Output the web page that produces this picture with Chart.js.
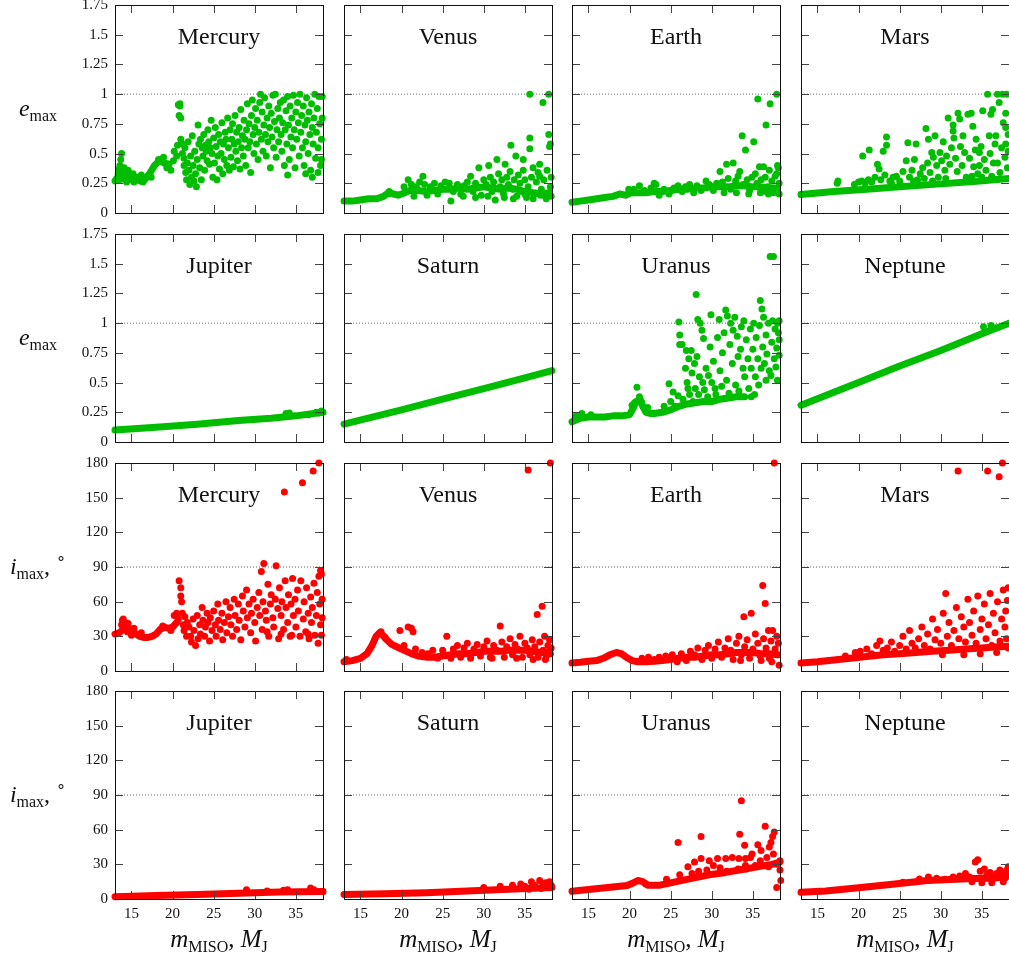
<!DOCTYPE html>
<html>
<head>
<meta charset="utf-8">
<script src="https://cdn.jsdelivr.net/npm/chart.js@4"></script>
<style>
  html, body { margin: 0; padding: 0; background: #fff; overflow: hidden; }
  #wrap { position: relative; width: 1009px; height: 958px; overflow: hidden; font-family: "Liberation Serif", serif; color: #111; }
  #wrap canvas { position: absolute; }
  .ylab { position: absolute; left: 0; width: 76px; text-align: center; font-size: 24px; line-height: 28px; white-space: nowrap; }
  .xlab { position: absolute; width: 208px; text-align: center; font-size: 25px; line-height: 30px; white-space: nowrap; }
  .sb { font-size: 16px; font-style: normal; position: relative; top: 5px; }
  .sp { font-size: 16px; position: relative; top: -10px; }
</style>
</head>
<body>
<div id="wrap"></div>
<script>
// ---- axes ----
const xMin = 13, xMax = 38.3;
const xTicks = [15, 20, 25, 30, 35];
const eTicks = [0, 0.25, 0.5, 0.75, 1, 1.25, 1.5, 1.75];
const iTicks = [0, 30, 60, 90, 120, 150, 180];
const eRef = 1, iRef = 90;

// ---- e_max, inner planets ----
const mercuryEBand = [13,0.27, 13.6,0.28, 14.2,0.30, 14.8,0.31, 15.4,0.29, 16,0.27, 16.6,0.28, 17.2,0.33, 17.8,0.40, 18.4,0.44, 19,0.42, 19.6,0.41];
const mercuryEDots = [13.2,0.29, 13.4,0.33, 13.5,0.37, 13.6,0.40, 13.7,0.45, 13.8,0.50, 13.9,0.35, 14,0.30, 14.1,0.38, 14.3,0.33, 14.4,0.26,
  14.6,0.36, 14.9,0.28, 15.2,0.33, 15.3,0.26, 15.7,0.30, 16.2,0.32, 16.4,0.26, 17.4,0.30, 18.3,0.45, 18.9,0.47, 19.3,0.38, 19.8,0.36,
  20.1,0.44, 20.2,0.52, 20.5,0.48, 20.6,0.57, 20.7,0.91, 20.9,0.92, 20.9,0.90, 20.8,0.82, 21,0.80, 21,0.62, 21.2,0.58, 21.2,0.50, 21.4,0.46, 21.4,0.40,
  21.5,0.55, 21.6,0.34, 21.7,0.28, 21.8,0.42, 21.9,0.60, 22,0.36, 22.1,0.24, 22.2,0.48, 22.3,0.30, 22.4,0.65, 22.5,0.40, 22.6,0.27, 22.7,0.52, 22.8,0.33, 22.9,0.22, 23,0.45,
  23.1,0.74, 23.2,0.58, 23.3,0.38, 23.4,0.62, 23.5,0.28, 23.6,0.55, 23.7,0.48, 23.8,0.66, 23.9,0.36, 24,0.57, 24.1,0.52, 24.2,0.44, 24.3,0.70, 24.4,0.60, 24.5,0.41, 24.6,0.55, 24.7,0.78, 24.8,0.50, 24.9,0.30, 25,0.63,
  25.1,0.42, 25.2,0.72, 25.3,0.56, 25.4,0.28, 25.5,0.48, 25.6,0.66, 25.7,0.37, 25.8,0.60, 25.9,0.50, 26,0.76, 26.1,0.33, 26.2,0.58, 26.3,0.45, 26.4,0.68, 26.5,0.62, 26.6,0.40, 26.7,0.80, 26.8,0.55, 26.9,0.36, 27,0.70,
  27.1,0.47, 27.2,0.62, 27.3,0.75, 27.4,0.39, 27.5,0.58, 27.6,0.82, 27.7,0.52, 27.8,0.68, 27.9,0.44, 28,0.60, 28.1,0.72, 28.2,0.37, 28.3,0.87, 28.4,0.55, 28.5,0.65, 28.6,0.48, 28.7,0.78, 28.8,0.62, 28.9,0.40, 29,0.70,
  29.1,0.92, 29.2,0.55, 29.3,0.75, 29.4,0.60, 29.5,0.34, 29.6,0.82, 29.7,0.95, 29.8,0.66, 29.9,0.50, 30,0.72, 30.1,0.88, 30.2,0.58, 30.3,0.78, 30.4,0.45, 30.5,0.68, 30.6,0.93, 30.7,1.0, 30.8,0.62, 30.9,0.85, 31,0.52,
  31.1,0.74, 31.2,0.97, 31.3,0.66, 31.4,0.48, 31.5,0.80, 31.6,0.60, 31.7,0.90, 31.8,0.72, 31.9,0.38, 32,0.84, 32.1,0.64, 32.2,0.99, 32.3,0.55, 32.4,0.77, 32.5,1.0, 32.6,0.47, 32.7,0.70, 32.8,0.88, 32.9,0.60, 33,0.80,
  33.1,0.93, 33.2,0.66, 33.3,0.52, 33.4,0.76, 33.5,0.95, 33.6,0.40, 33.7,0.70, 33.8,0.86, 33.9,0.58, 34,0.98, 34.1,0.74, 34.2,0.45, 34.3,0.90, 34.4,0.64, 34.5,0.80, 34.6,0.55, 34.7,0.99, 34.8,0.70, 34.9,0.38, 35,0.85,
  35.1,0.62, 35.2,0.93, 35.3,0.76, 35.4,0.48, 35.5,1.0, 35.6,0.68, 35.7,0.82, 35.8,0.55, 35.9,0.90, 36,0.40, 36.1,0.74, 36.2,0.60, 36.3,0.97, 36.4,0.78, 36.5,0.50, 36.6,0.85, 36.7,0.66, 36.8,0.36, 36.9,0.92, 37,0.72,
  37.1,0.58, 37.2,0.80, 37.3,1.0, 37.4,0.46, 37.5,0.68, 37.6,0.88, 37.7,0.55, 37.8,0.98, 37.9,0.75, 38,0.40, 38.1,0.45, 38.1,0.62, 38.2,0.80, 38.2,0.98, 37.7,0.34, 37,0.30, 36.2,0.33, 34,0.32];

const venusEBand = [13,0.10, 14,0.10, 15,0.11, 16,0.12, 17,0.12, 17.8,0.14, 18.4,0.17, 19,0.16, 19.6,0.15, 20.4,0.17, 21,0.19, 22,0.19, 23,0.18, 24,0.19,
  25,0.20, 26,0.20, 27,0.21, 28,0.20, 29,0.21, 30,0.22, 31,0.21, 32,0.20, 33,0.21, 34,0.20, 35,0.18, 36,0.17, 37,0.16, 38,0.17];
const venusEDots = [18.5,0.18, 20.3,0.22, 20.8,0.28, 21.2,0.24, 21.5,0.14, 21.8,0.22, 22.2,0.26, 22.6,0.31, 22.8,0.24, 23.1,0.15, 23.5,0.22, 24,0.25, 24.4,0.16,
  24.8,0.23, 25.3,0.26, 25.8,0.25, 26,0.10, 26.3,0.18, 26.8,0.24, 27.2,0.16, 27.6,0.23, 28,0.26, 28.4,0.31, 28.7,0.18, 29,0.25, 29.4,0.38, 29.7,0.15,
  30,0.28, 30.3,0.24, 30.6,0.40, 30.8,0.30, 31,0.18, 31.2,0.26, 31.4,0.11, 31.6,0.45, 31.8,0.33, 32,0.22, 32.2,0.28, 32.4,0.16, 32.6,0.41, 32.8,0.30,
  33,0.24, 33.2,0.35, 33.3,0.57, 33.5,0.20, 33.7,0.28, 33.9,0.48, 34,0.14, 34.2,0.32, 34.4,0.25, 34.6,0.18, 34.8,0.45, 34.8,0.36, 35,0.28, 35.2,0.13,
  35.4,0.22, 35.6,0.63, 35.6,0.54, 35.6,1.0, 35.8,0.30, 36,0.38, 36.2,0.16, 36.4,0.26, 36.6,0.34, 36.8,0.41, 36.8,0.31, 37,0.20, 37.2,0.93, 37.3,0.28,
  37.5,0.14, 37.7,0.36, 37.9,0.66, 37.9,1.0, 38,0.56, 38.1,0.58, 38.1,0.22, 38.2,0.30, 38.2,0.14, 37.6,0.12, 36.9,0.15, 36,0.12, 35,0.16, 33.6,0.12,
  32.5,0.13, 30.5,0.14, 29,0.13, 27.5,0.14];

const earthEBand = [13,0.09, 14,0.10, 15,0.11, 16,0.12, 17,0.13, 18,0.14, 18.8,0.16, 19.5,0.15, 20.2,0.17, 21,0.17, 22,0.17, 23,0.18, 24,0.18, 25,0.19,
  26,0.20, 27,0.20, 28,0.21, 29,0.21, 30,0.22, 31,0.22, 32,0.22, 33,0.23, 34,0.23, 35,0.22, 36,0.22, 37,0.21, 38,0.21];
const earthEDots = [19.9,0.20, 20.5,0.20, 21.2,0.23, 21.8,0.19, 22.6,0.21, 23,0.25, 23.2,0.24, 23.6,0.15, 24.2,0.20, 24.8,0.16, 25.4,0.21, 25.9,0.23,
  26.4,0.18, 26.8,0.22, 27.3,0.24, 27.8,0.17, 28.2,0.23, 28.7,0.19, 29.3,0.27, 29.7,0.24, 30.2,0.19, 30.6,0.25, 31,0.35, 31.3,0.26, 31.8,0.41, 32,0.29,
  32.3,0.20, 32.6,0.42, 32.9,0.27, 33.2,0.31, 33.4,0.35, 33.7,0.65, 33.8,0.24, 34.1,0.53, 34.3,0.28, 34.6,0.19, 34.9,0.30, 35.1,0.60, 35.3,0.33,
  35.5,0.25, 35.6,0.96, 35.8,0.39, 36,0.28, 36.2,0.18, 36.3,0.39, 36.5,0.30, 36.6,0.74, 36.8,0.22, 37,0.36, 37.1,0.92, 37.3,0.27, 37.5,0.17, 37.7,0.31,
  37.9,1.0, 37.9,0.33, 38,0.40, 38.1,0.38, 38.2,0.25, 38.2,0.16, 36.9,0.16, 35.9,0.17, 34.5,0.16, 33,0.17, 31.5,0.17];

const marsEBand = [13,0.155, 17,0.18, 21,0.20, 25,0.22, 30,0.245, 34,0.265, 38.3,0.29];
const marsEDots = [17.4,0.25, 17.5,0.27, 19.5,0.24, 20,0.26, 20.4,0.27, 20.5,0.48, 20.8,0.25, 21.2,0.28, 21.3,0.53, 21.6,0.26, 22,0.30, 22.3,0.41,
  22.5,0.37, 22.7,0.28, 23,0.52, 23.2,0.32, 23.4,0.57, 23.4,0.64, 23.8,0.27, 24.2,0.30, 24.6,0.31, 25,0.27, 25.4,0.35, 25.8,0.44, 26,0.59, 26.2,0.30,
  26.5,0.36, 26.8,0.45, 27,0.58, 27.2,0.28, 27.5,0.33, 27.8,0.38, 28,0.29, 28.2,0.71, 28.4,0.42, 28.5,0.62, 28.7,0.34, 28.9,0.51, 29.1,0.47, 29.3,0.65,
  29.5,0.40, 29.7,0.30, 29.9,0.51, 30.1,0.44, 30.3,0.60, 30.5,0.36, 30.7,0.48, 30.9,0.80, 31.1,0.41, 31.3,0.55, 31.5,0.74, 31.5,0.69, 31.6,0.63, 31.8,0.46,
  32,0.35, 32.1,0.84, 32.3,0.79, 32.4,0.56, 32.6,0.40, 32.7,0.65, 32.9,0.51, 33.1,0.30, 33.3,0.83, 33.5,0.46, 33.7,0.84, 33.9,0.73, 34,0.39, 34.2,0.53,
  34.3,0.62, 34.5,0.33, 34.7,0.51, 34.7,0.40, 34.9,0.56, 35.1,0.86, 35.3,0.45, 35.5,0.36, 35.7,1.0, 35.9,0.65, 36,0.50, 36.1,0.83, 36.3,0.87, 36.4,0.42,
  36.6,0.58, 36.7,0.65, 36.9,1.0, 36.9,0.42, 37.1,0.93, 37.2,0.34, 37.4,0.55, 37.5,1.0, 37.6,0.76, 37.8,0.47, 37.9,0.84, 37.9,0.72, 37.9,0.58, 38,1.0,
  38.1,0.38, 38.2,0.66, 38.2,0.52, 36.2,0.31, 35,0.30, 33.8,0.31, 30.6,0.29, 29,0.27, 26.7,0.27, 24,0.25];

// ---- e_max, outer planets ----
const jupiterEBand = [13,0.10, 18,0.125, 23,0.15, 28,0.18, 32,0.20, 35,0.22, 38.3,0.25];
const jupiterEDots = [33.8,0.24, 34.2,0.245, 36.5,0.23, 37.5,0.25, 38.1,0.26, 37.8,0.245];

const saturnEBand = [13,0.15, 20,0.27, 25,0.36, 30,0.45, 35,0.54, 38.3,0.60];
const saturnEDots = [];

const uranusEBand = [13,0.17, 14,0.20, 15,0.21, 16,0.21, 17,0.21, 18,0.22, 19,0.22, 20,0.23, 20.4,0.28, 20.8,0.34, 21.3,0.36, 21.6,0.30, 22,0.25,
  22.5,0.24, 23,0.24, 24,0.25, 25,0.27, 26,0.30, 27,0.32, 28,0.33, 29,0.34, 30,0.34, 31,0.36, 32,0.37, 33,0.38, 34,0.38];
const uranusEDots = [13.5,0.22, 14.2,0.24, 15.3,0.23, 20.3,0.31, 20.6,0.33, 20.9,0.46, 21.2,0.38, 21.5,0.33, 22.2,0.29, 24.2,0.30, 24.8,0.49, 25,0.34,
  25.3,0.42, 25.5,0.30, 25.9,0.39, 26,1.01, 26.1,0.90, 26.1,0.82, 26.4,0.82, 26.5,0.36, 26.8,0.62, 26.9,0.77, 27,0.50, 27.1,0.45, 27.2,0.70, 27.3,0.40,
  27.5,0.77, 27.6,0.58, 27.7,0.34, 27.9,0.66, 28,0.45, 28.1,1.24, 28.2,0.72, 28.3,1.03, 28.4,0.40, 28.5,0.55, 28.6,1.0, 28.8,0.94, 28.9,0.50, 29,0.87,
  29.1,0.44, 29.3,0.62, 29.5,0.38, 29.6,0.56, 29.8,0.80, 29.9,1.07, 30,0.50, 30.2,0.68, 30.4,0.45, 30.5,0.40, 30.7,0.88, 30.9,1.03, 31,0.60, 31.2,0.47,
  31.3,0.75, 31.5,0.92, 31.7,1.11, 31.8,0.52, 31.9,1.06, 32.1,0.41, 32.2,0.82, 32.3,1.0, 32.5,0.66, 32.6,0.94, 32.8,1.05, 32.9,0.48, 33.1,0.89, 33.2,0.72,
  33.3,0.43, 33.5,0.78, 33.6,0.97, 33.8,0.62, 33.9,1.02, 34,0.55, 34.2,0.86, 34.4,0.70, 34.5,0.45, 34.7,0.95, 34.8,0.62, 35,0.78, 35.1,1.0, 35.3,0.55,
  35.4,0.88, 35.6,0.70, 35.7,0.48, 35.8,0.98, 35.9,1.19, 36,0.62, 36.1,1.12, 36.2,0.80, 36.3,1.05, 36.4,0.66, 36.6,0.90, 36.7,0.74, 36.9,1.0, 37,0.60,
  37.1,1.56, 37.3,0.84, 37.4,1.02, 37.5,1.56, 37.6,0.70, 37.7,0.95, 37.8,0.63, 37.9,0.79, 38,1.0, 38,0.52, 38.1,0.92, 38.2,0.73, 38.2,0.86, 38.2,1.02,
  37.2,0.56, 36.6,0.52, 35.2,0.40, 34.8,0.38];

const neptuneEBand = [13,0.31, 20,0.50, 25,0.64, 30,0.77, 35,0.91, 38.3,1.0];
const neptuneEDots = [35.2,0.97, 36.1,0.98, 36.6,0.96];

// ---- i_max, inner planets ----
const mercuryIBand = [13,32, 13.5,33, 14,36, 14.4,38, 14.8,36, 15.2,34, 15.6,32, 16,30, 16.5,29, 17,29, 17.5,30, 18,32, 18.5,36, 19,38, 19.5,37, 20,38, 20.5,42];
const mercuryIDots = [13.8,40, 13.9,44, 14,45, 14.2,42, 14.3,39, 14.6,41, 14.5,34, 15,31, 15.3,37, 16.2,33, 18.8,39, 19.8,35, 20.2,48, 20.5,50, 20.7,45,
  20.8,78, 21,72, 21,65, 21.1,60, 21.2,50, 21.3,40, 21.4,35, 21.5,47, 21.7,30, 21.8,42, 22,38, 22.2,30, 22.3,25, 22.5,45, 22.6,35, 22.8,22, 23,48, 23.1,28,
  23.3,40, 23.4,32, 23.6,55, 23.7,44, 23.9,30, 24,38, 24.2,50, 24.3,42, 24.5,26, 24.6,46, 24.8,35, 25,52, 25.2,40, 25.3,30, 25.5,58, 25.6,44, 25.8,36,
  26,50, 26.1,27, 26.3,42, 26.5,60, 26.6,33, 26.8,47, 27,55, 27.1,40, 27.3,30, 27.5,62, 27.6,48, 27.8,36, 28,58, 28.1,44, 28.3,27, 28.5,65, 28.6,52,
  28.8,38, 29,70, 29.1,46, 29.3,58, 29.5,33, 29.6,50, 29.8,62, 30,42, 30.1,26, 30.3,55, 30.5,68, 30.6,48, 30.8,86, 30.9,36, 31,60, 31.1,93, 31.3,52,
  31.4,44, 31.6,75, 31.7,30, 31.9,58, 32,66, 32.2,46, 32.3,38, 32.5,62, 32.6,91, 32.8,54, 32.9,28, 33,72, 33.2,48, 33.3,60, 33.5,36, 33.6,155, 33.7,78,
  33.8,55, 34,42, 34.1,66, 34.3,30, 34.4,58, 34.6,80, 34.7,48, 34.9,62, 35,38, 35.2,70, 35.3,52, 35.5,30, 35.6,78, 35.8,163, 35.9,45, 36,60, 36.2,34,
  36.3,72, 36.5,50, 36.6,28, 36.8,64, 36.9,42, 37,55, 37.1,173, 37.2,76, 37.3,31, 37.5,48, 37.6,68, 37.7,24, 37.8,180, 37.8,82, 37.9,58, 38,87, 38,40,
  38.1,84, 38.1,31, 38.2,62, 38.2,46, 36.5,32, 34.5,31, 33.2,32, 31.5,34];

const venusIBand = [13,8, 14,9, 15,11, 15.8,15, 16.4,22, 16.9,30, 17.3,33, 17.7,31, 18.2,27, 18.8,23, 19.4,21, 20,19, 20.6,17, 21.2,15, 22,13, 23,12,
  24,12, 25,13, 26,14, 27,15, 28,15, 29,16, 30,17, 31,17, 32,17, 33,18, 34,18, 35,18, 36,17, 37,16, 38,16];
const venusIDots = [13.3,10, 17.5,34, 18,29, 19.8,35, 20.3,22, 20.8,38, 21.2,37, 21.4,34, 21.7,19, 22.5,16, 23.2,15, 23.8,18, 24.4,11, 25,18, 25.5,30,
  26,11, 26.3,19, 26.8,22, 27.2,12, 27.6,20, 28,24, 28.4,11, 28.8,19, 29.2,23, 29.6,13, 30,21, 30.4,26, 30.8,12, 31.2,22, 31.6,18, 32,39, 32.2,25,
  32.5,12, 32.8,21, 33.2,28, 33.5,14, 33.8,23, 34.1,19, 34.4,30, 34.7,12, 35,24, 35.4,174, 35.3,20, 35.6,14, 35.9,27, 36.2,21, 36.5,49, 36.6,12,
  36.8,25, 37.1,56, 37.2,18, 37.4,30, 37.6,13, 37.8,22, 38,27, 38.1,180, 38.1,15, 38.2,20, 37.5,10, 36,10, 34,11, 31,11];

const earthIBand = [13,7, 14,7.5, 15,8.5, 16,9, 16.8,11, 17.6,14, 18.4,16, 19,15, 19.6,12, 20.3,9, 21,8, 22,8, 23,8.5, 24,9, 25,10, 26,11, 27,12,
  28,12, 29,13, 30,14, 31,14, 32,15, 33,16, 34,16, 35,16, 36,15, 37,15, 38,14];
const earthIDots = [21.5,11, 22.3,12, 23,10, 23.6,12, 24.4,13, 25.2,14, 25.8,8, 26.3,15, 26.9,9, 27.4,17, 27.9,14, 28.3,20, 28.8,10, 29.2,18, 29.6,22,
  30,11, 30.4,19, 30.8,25, 31.2,12, 31.6,20, 32,28, 32.3,18, 32.6,10, 33,24, 33.3,30, 33.6,14, 33.9,47, 34,21, 34.3,27, 34.6,11, 34.8,50, 35,19,
  35.3,32, 35.6,24, 35.9,13, 36.2,74, 36.3,28, 36.5,58.5, 36.6,20, 36.9,35, 37,11, 37.2,26, 37.3,8, 37.4,35, 37.6,180, 37.7,19, 37.9,30, 38,14,
  38.1,24, 38.2,5, 36,9, 33.5,9];

const marsIBand = [13,7, 15,8, 17,9.5, 19,11, 21,12.5, 23,14, 25,15, 27,16, 29,17, 31,18, 33,19, 35,20, 37,21, 38.3,21.5];
const marsIDots = [18.4,13, 19.6,16, 20.2,17, 21,19, 21.6,15, 22.2,22, 22.6,26, 23,18, 23.5,20, 24,25, 24.4,17, 25,22, 25.4,30, 25.8,19, 26.2,35,
  26.5,24, 26.9,20, 27.3,28, 27.7,38, 28,22, 28.4,32, 28.7,19, 29,45, 29.3,27, 29.6,36, 30,24, 30.3,50, 30.6,67, 30.8,30, 31,42, 31.3,22, 31.6,35,
  31.9,55, 32.1,173, 32.2,28, 32.5,47, 32.8,38, 33,25, 33.3,62, 33.5,42, 33.8,31, 34,52, 34.3,24, 34.5,65, 34.8,36, 35,45, 35.3,58, 35.5,28, 35.7,173,
  35.8,40, 36,67, 36.2,22, 36.4,50, 36.6,33, 36.9,60, 37.1,168, 37.2,26, 37.4,45, 37.5,180, 37.6,70, 37.8,38, 37.9,52, 38,28, 38.1,61, 38.2,72,
  38.2,20, 36.8,16, 34.8,15, 32.8,14, 30.2,14];

// ---- i_max, outer planets ----
const jupiterIBand = [13,2, 18,3, 23,4, 28,5, 33,6, 38.3,6.5];
const jupiterIDots = [29,8, 31.5,7, 33.5,7.5, 34,8, 36.8,9.5, 37.2,8, 38.2,6.5];

const saturnIBand = [13,4, 18,4.5, 23,5.5, 28,7, 33,8.5, 38.3,10];
const saturnIDots = [30,10, 32,11, 33.5,12, 34.5,13, 35,11, 35.8,15, 36.2,12, 36.8,16, 37.2,13, 37.5,14, 38,15, 38.2,12, 37,9, 35.5,8.5];

const uranusIBand = [13,6.7, 15.6,8.7, 19.7,11.6, 20.5,14, 21,16, 21.6,15, 22.2,12, 23.7,12, 25.7,15, 27.7,18, 29.7,21, 31.7,23, 33.7,25.5, 35.7,28,
  37.3,30, 38.3,32];
const uranusIDots = [25.9,49, 28.7,54, 33.6,85, 33.4,56, 34,46.5, 36.5,63, 37.6,58, 37.4,54, 37.2,49, 37,45, 35.6,47, 36,42, 34.9,39, 34.7,36, 33.3,35,
  32.5,36, 31.7,35, 30.7,35, 29.7,33, 28.7,35, 27.9,32, 27.1,28, 26.1,21, 34.1,35, 34.1,29, 35.9,33, 36.7,36, 37.5,39, 37.9,30, 38.3,33, 38.3,25,
  38.4,16, 37.9,10, 36.9,28, 36.3,29, 35.3,29, 34.2,26, 33.2,26, 31.8,24, 31,27, 30.2,29, 29.4,25, 28.4,24, 27.6,22, 24.5,17, 22,13];

const neptuneIBand = [13,5.8, 16,7, 20.3,10, 24.4,13, 28.4,16, 32.5,17.4, 35,18, 36.5,18, 38.3,20];
const neptuneIDots = [25.4,14.5, 27.4,17.4, 28.5,19, 29.5,18, 30.5,17, 31.5,19, 32.3,20, 33,22, 33.5,19, 34.2,32, 34.5,34, 34.8,24, 35.3,26, 35.6,21,
  36,23, 36.4,19, 36.8,22, 37.2,25, 37.4,23, 37.8,18, 38,24.7, 38.2,21, 38.2,28, 37.6,15, 36.2,14, 35,14, 33.8,15];

// ---- panel grid ----
const colLeft = [115, 344, 572, 801];
const rowTop = [5, 234, 463, 691];
const side = 208;
const padL = 60, padT = 12, padR = 10, padB = 30;
const green = '#00bd00', red = '#ff0000';

const panels = [
  ['Mercury', 'e', mercuryEBand, mercuryEDots], ['Venus', 'e', venusEBand, venusEDots], ['Earth', 'e', earthEBand, earthEDots], ['Mars', 'e', marsEBand, marsEDots],
  ['Jupiter', 'e', jupiterEBand, jupiterEDots], ['Saturn', 'e', saturnEBand, saturnEDots], ['Uranus', 'e', uranusEBand, uranusEDots], ['Neptune', 'e', neptuneEBand, neptuneEDots],
  ['Mercury', 'i', mercuryIBand, mercuryIDots], ['Venus', 'i', venusIBand, venusIDots], ['Earth', 'i', earthIBand, earthIDots], ['Mars', 'i', marsIBand, marsIDots],
  ['Jupiter', 'i', jupiterIBand, jupiterIDots], ['Saturn', 'i', saturnIBand, saturnIDots], ['Uranus', 'i', uranusIBand, uranusIDots], ['Neptune', 'i', neptuneIBand, neptuneIDots]
];

const toPts = flat => {
  const out = [];
  for (let k = 0; k < flat.length; k += 2) out.push({x: flat[k], y: flat[k + 1]});
  return out;
};

const serif = '"Liberation Serif", "DejaVu Serif", serif';

// box around the plot area, with inward ticks on all four sides
const framePlugin = {
  id: 'frame',
  afterDatasetsDraw(chart) {
    const {ctx, chartArea: a, scales} = chart;
    ctx.save();
    ctx.strokeStyle = '#444';
    ctx.lineWidth = 1;
    ctx.beginPath();
    scales.x.ticks.forEach(t => {
      const px = Math.round(scales.x.getPixelForValue(t.value)) + 0.5;
      ctx.moveTo(px, a.bottom); ctx.lineTo(px, a.bottom - 8);
      ctx.moveTo(px, a.top); ctx.lineTo(px, a.top + 8);
    });
    scales.y.ticks.forEach(t => {
      const py = Math.round(scales.y.getPixelForValue(t.value)) + 0.5;
      ctx.moveTo(a.left, py); ctx.lineTo(a.left + 8, py);
      ctx.moveTo(a.right, py); ctx.lineTo(a.right - 8, py);
    });
    ctx.stroke();
    ctx.strokeStyle = '#111';
    ctx.strokeRect(a.left + 0.5, a.top + 0.5, a.right - a.left, a.bottom - a.top);
    ctx.restore();
  },
  afterDraw(chart) {
    const a = chart.chartArea;
    const ctx = chart.ctx;
    ctx.save();
    ctx.fillStyle = '#111';
    ctx.font = '24px ' + serif;
    ctx.textAlign = 'center';
    ctx.textBaseline = 'alphabetic';
    ctx.fillText(chart.options.plugins.frame.name, (a.left + a.right) / 2, a.top + 39);
    ctx.restore();
  }
};

const wrap = document.getElementById('wrap');

panels.forEach((p, n) => {
  const row = Math.floor(n / 4), col = n % 4;
  const [name, kind, band, dots] = p;
  const color = kind === 'e' ? green : red;
  const yTicks = kind === 'e' ? eTicks : iTicks;
  const ref = kind === 'e' ? eRef : iRef;

  const cv = document.createElement('canvas');
  cv.width = padL + side + padR;
  cv.height = padT + side + padB;
  cv.style.left = (colLeft[col] - padL) + 'px';
  cv.style.top = (rowTop[row] - padT) + 'px';
  wrap.appendChild(cv);

  new Chart(cv.getContext('2d'), {
    type: 'scatter',
    data: {
      datasets: [
        {
          data: toPts(dots),
          pointRadius: 3.5,
          pointBorderWidth: 0,
          pointBackgroundColor: color,
          clip: 4,
          order: 0
        },
        {
          type: 'line',
          data: toPts(band),
          borderColor: color,
          borderWidth: 7,
          borderCapStyle: 'round',
          borderJoinStyle: 'round',
          pointRadius: 0,
          fill: false,
          clip: 4,
          order: 1
        },
        {
          type: 'line',
          data: [{x: xMin, y: ref}, {x: xMax, y: ref}],
          borderColor: '#666',
          borderWidth: 1,
          borderDash: [1, 2],
          pointRadius: 0,
          fill: false,
          order: 2
        }
      ]
    },
    options: {
      responsive: false,
      devicePixelRatio: 1,
      animation: false,
      events: [],
      layout: {padding: {left: 0, top: padT, right: padR, bottom: 0}},
      plugins: {
        legend: {display: false},
        tooltip: {enabled: false},
        frame: {name: name}
      },
      scales: {
        x: {
          type: 'linear',
          min: xMin,
          max: xMax,
          afterBuildTicks: s => { s.ticks = xTicks.map(v => ({value: v})); },
          afterFit: s => { s.height = padB; s.paddingLeft = 0; s.paddingRight = 0; },
          grid: {display: false, drawTicks: false},
          border: {display: false},
          ticks: {
            display: row === 3,
            padding: 6,
            autoSkip: false,
            maxRotation: 0,
            color: '#111',
            font: {family: serif, size: 15},
            callback: v => String(v)
          }
        },
        y: {
          type: 'linear',
          min: 0,
          max: yTicks[yTicks.length - 1],
          afterBuildTicks: s => { s.ticks = yTicks.map(v => ({value: v})); },
          afterFit: s => { s.width = padL; s.paddingTop = 0; s.paddingBottom = 0; },
          grid: {display: false, drawTicks: false},
          border: {display: false},
          ticks: {
            display: col === 0,
            padding: 7,
            autoSkip: false,
            color: '#111',
            font: {family: serif, size: 15},
            callback: v => String(v)
          }
        }
      }
    },
    plugins: [framePlugin]
  });
});

// axis titles
const yTitles = [
  [0, '<i>e</i><span class="sb">max</span>'],
  [1, '<i>e</i><span class="sb">max</span>'],
  [2, '<i>i</i><span class="sb">max</span>, <span class="sp">&#8728;</span>'],
  [3, '<i>i</i><span class="sb">max</span>, <span class="sp">&#8728;</span>']
];
yTitles.forEach(([row, html]) => {
  const d = document.createElement('div');
  d.className = 'ylab';
  d.style.top = (rowTop[row] + 89) + 'px';
  d.innerHTML = html;
  wrap.appendChild(d);
});
colLeft.forEach(x => {
  const d = document.createElement('div');
  d.className = 'xlab';
  d.style.left = x + 'px';
  d.style.top = '924px';
  d.innerHTML = '<i>m</i><span class="sb">MISO</span>, <i>M</i><span class="sb">J</span>';
  wrap.appendChild(d);
});
</script>
</body>
</html>
